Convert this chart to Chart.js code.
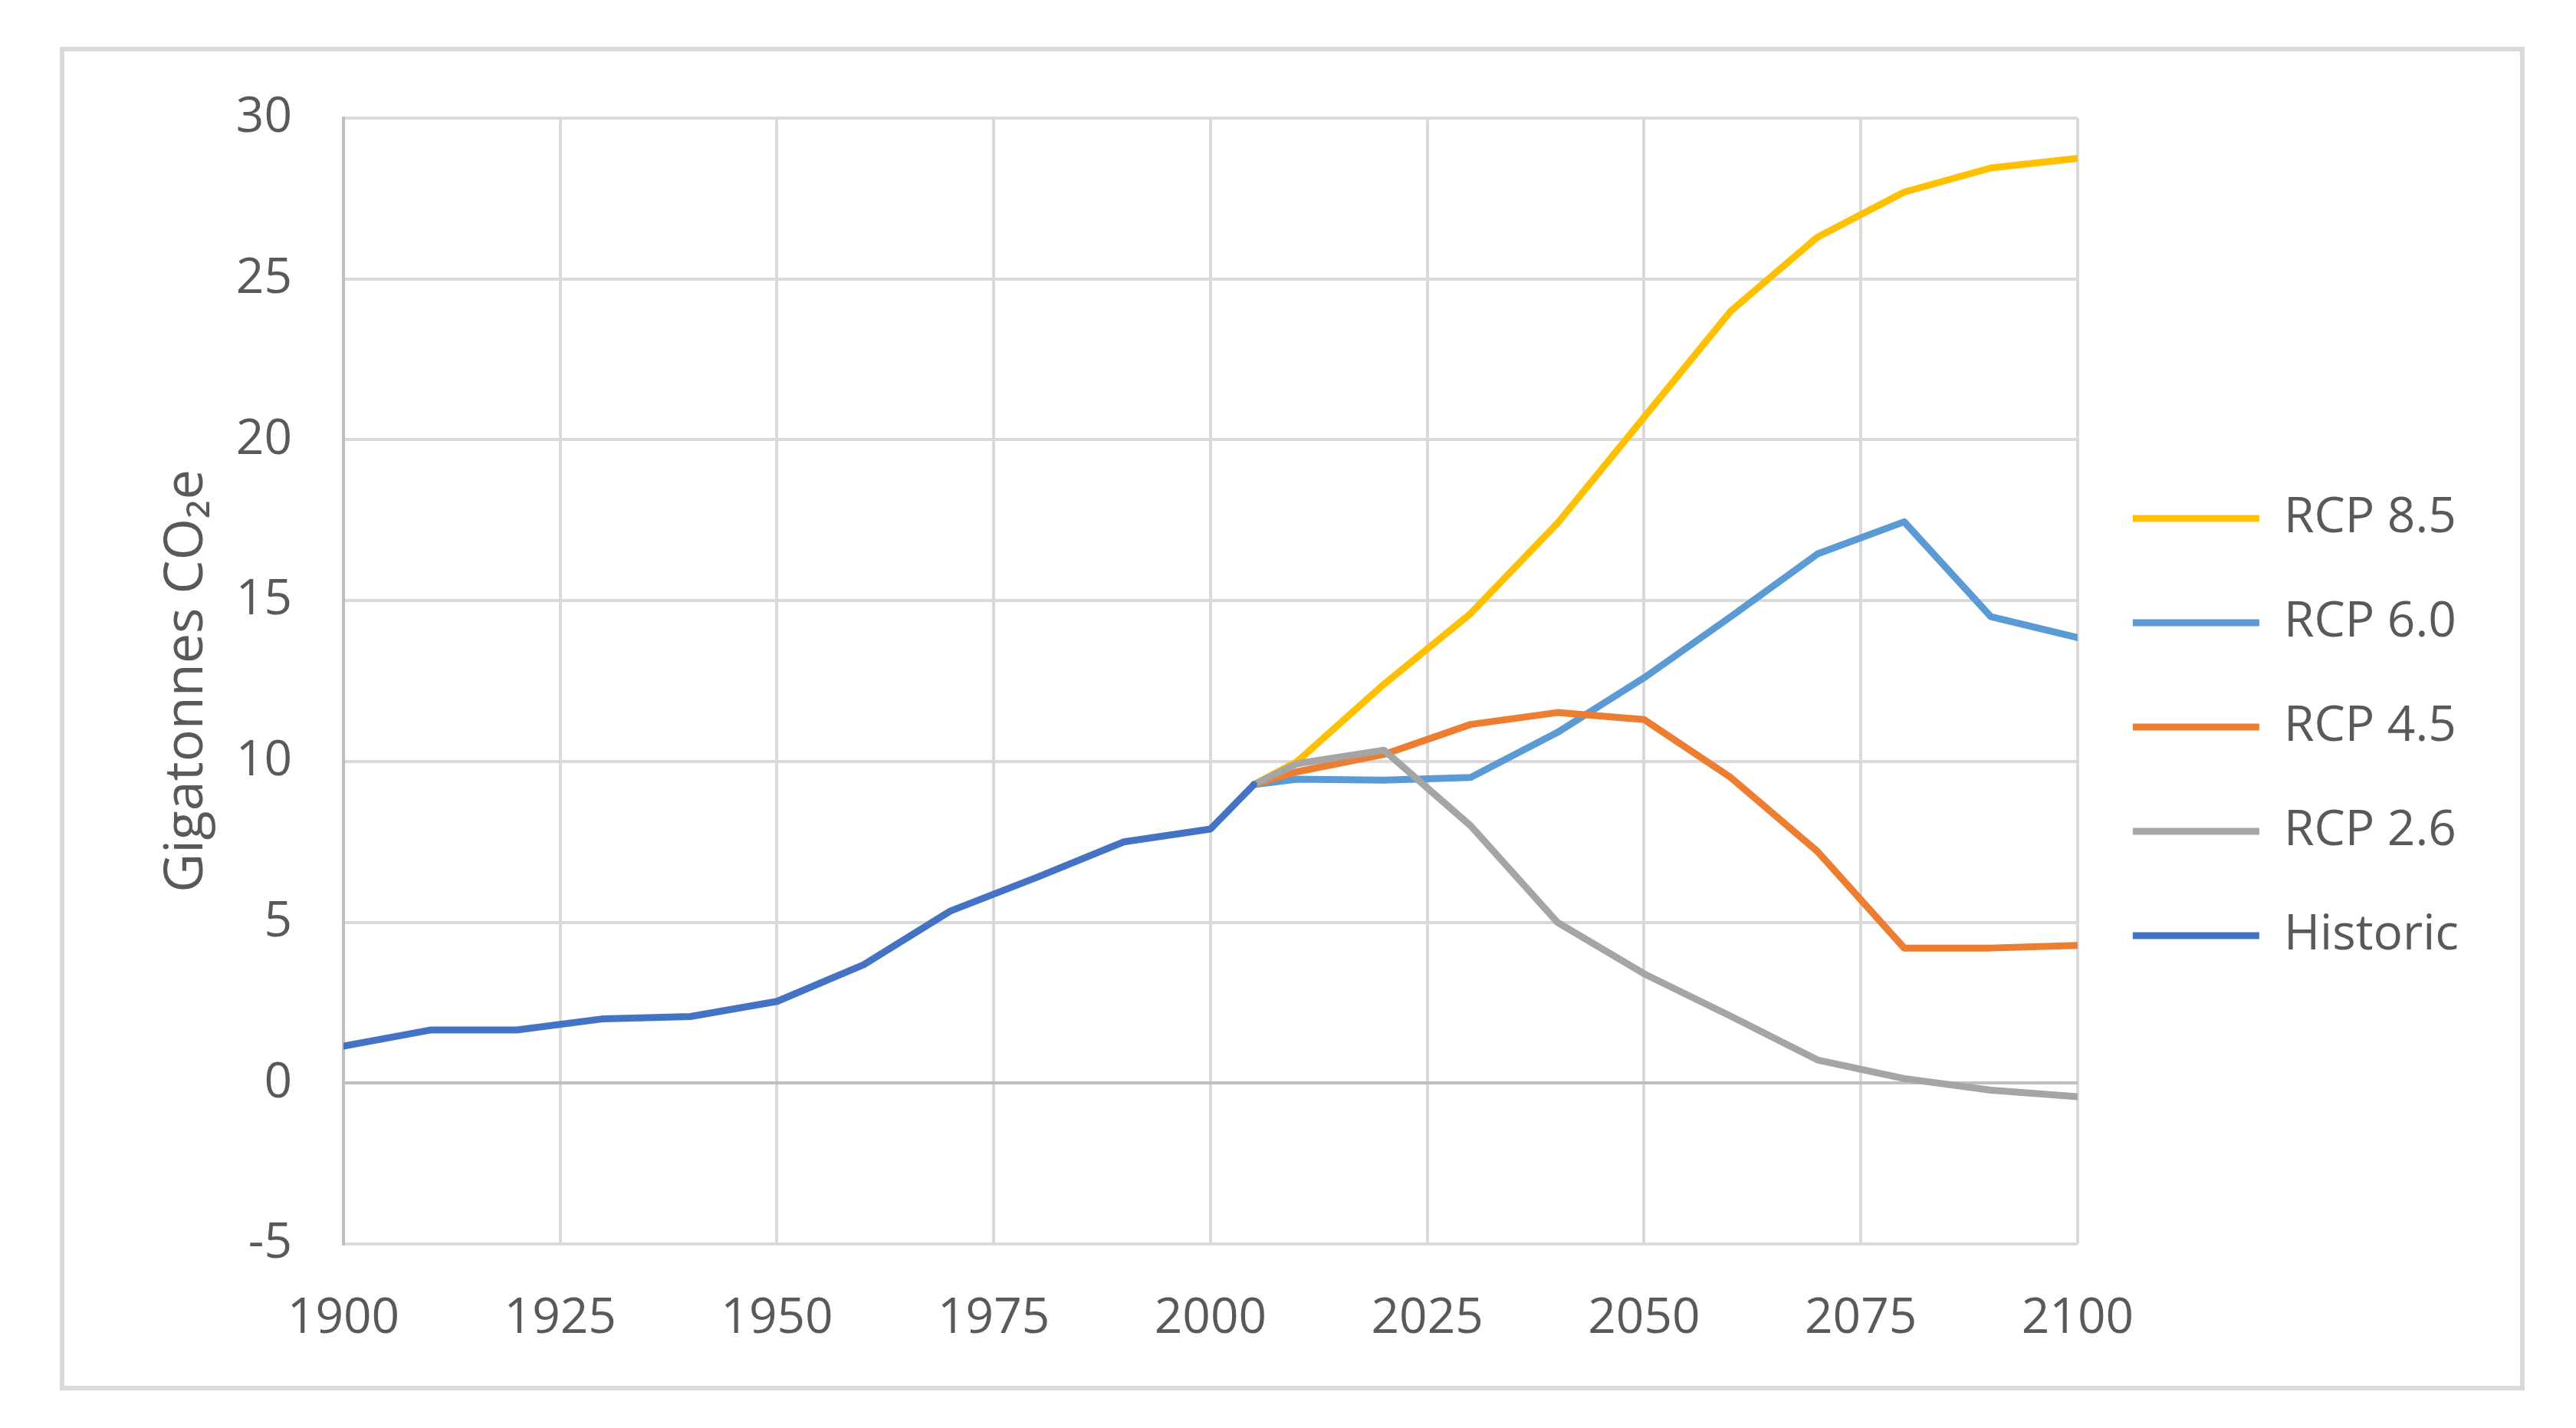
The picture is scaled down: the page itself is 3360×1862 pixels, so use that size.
<!DOCTYPE html>
<html>
<head>
<meta charset="utf-8">
<script src="https://cdn.jsdelivr.net/npm/chart.js@4.4.1/dist/chart.umd.min.js"></script>
<style>
  html, body { margin: 0; padding: 0; background: #ffffff; }
  body { width: 3360px; height: 1862px; position: relative; overflow: hidden; }
  #frame { position: absolute; left: 78px; top: 61px; width: 3215px; height: 1752px; box-sizing: border-box; border: 6px solid #d9d9d9; }
  #c { position: absolute; left: 0; top: 0; }
</style>
</head>
<body>
<div id="frame"></div>
<canvas id="c" width="3360" height="1862"></canvas>
<script>
// ---- Data ----
const histYears = [1900, 1910, 1920, 1930, 1940, 1950, 1960, 1970, 1980, 1990, 2000, 2005];
const historic  = [1.15, 1.65, 1.65, 2.0, 2.07, 2.54, 3.68, 5.35, 6.4, 7.5, 7.9, 9.28];

const rcpYears = [2005, 2010, 2020, 2030, 2040, 2050, 2060, 2070, 2080, 2090, 2100];
const rcp85 = [9.28, 10.0, 12.4, 14.6, 17.4, 20.7, 24.0, 26.3, 27.7, 28.45, 28.75];
const rcp60 = [9.28, 9.45, 9.42, 9.5, 10.9, 12.6, 14.5, 16.45, 17.45, 14.5, 13.85];
const rcp45 = [9.28, 9.68, 10.22, 11.15, 11.52, 11.3, 9.5, 7.2, 4.2, 4.2, 4.28];
const rcp26 = [9.28, 9.93, 10.35, 8.0, 5.0, 3.4, 2.08, 0.72, 0.14, -0.22, -0.42];

const seriesNames = ['RCP 8.5', 'RCP 6.0', 'RCP 4.5', 'RCP 2.6', 'Historic'];
const seriesColors = ['#FFC000', '#5B9BD5', '#ED7D31', '#A5A5A5', '#4472C4'];

const xMin = 1900, xMax = 2100, xStep = 25;
const yMin = -5, yMax = 30, yStep = 5;
const yTitle = 'Gigatonnes CO\u2082e';

// ---- Build datasets ----
function pts(xs, ys) { return xs.map((x, i) => ({ x: x, y: ys[i] })); }
const seriesData = [
  pts(rcpYears, rcp85),
  pts(rcpYears, rcp60),
  pts(rcpYears, rcp45),
  pts(rcpYears, rcp26),
  pts(histYears, historic)
];

const datasets = seriesNames.map((name, i) => ({
  label: name,
  data: seriesData[i],
  borderColor: seriesColors[i],
  backgroundColor: seriesColors[i],
  borderWidth: 9,
  borderCapStyle: 'round',
  borderJoinStyle: 'round',
  pointRadius: 0,
  pointHoverRadius: 0,
  tension: 0,
  fill: false,
  order: seriesNames.length - 1 - i   // Excel draws first series underneath
}));

const FONT = "'Open Sans', 'Noto Sans', 'DejaVu Sans', sans-serif";
const TXT = '#595959';

new Chart(document.getElementById('c'), {
  type: 'line',
  data: { datasets: datasets },
  options: {
    responsive: false,
    maintainAspectRatio: false,
    devicePixelRatio: 1,
    animation: false,
    layout: { padding: { left: 150, top: 154, right: 143, bottom: 120 } },
    plugins: {
      tooltip: { enabled: false },
      title: { display: false },
      legend: {
        display: true,
        position: 'right',
        align: 'center',
        labels: {
          usePointStyle: true,
          pointStyle: 'line',
          pointStyleWidth: 165,
          padding: 72,
          color: TXT,
          font: { family: FONT, size: 64 },
          sort: (a, b) => a.datasetIndex - b.datasetIndex
        }
      }
    },
    scales: {
      x: {
        type: 'linear',
        min: xMin, max: xMax,
        ticks: {
          stepSize: xStep,
          color: TXT,
          padding: 59,
          font: { family: FONT, size: 64 },
          callback: (v) => String(v),
          maxRotation: 0
        },
        grid: { color: '#d9d9d9', lineWidth: 4, drawTicks: false },
        border: { display: false },
        afterFit: (s) => { s.height = 120; }
      },
      y: {
        type: 'linear',
        min: yMin, max: yMax,
        ticks: {
          stepSize: yStep,
          color: TXT,
          padding: 67,
          font: { family: FONT, size: 64 }
        },
        grid: {
          color: (ctx) => (ctx.tick && ctx.tick.value === 0 ? '#bfbfbf' : '#d9d9d9'),
          lineWidth: 4,
          drawTicks: false
        },
        border: { display: true, color: '#bfbfbf', width: 4 },
        title: {
          display: true,
          text: yTitle,
          color: TXT,
          font: { family: FONT, size: 70 },
          padding: { top: 52, bottom: 0 }
        },
        afterFit: (s) => { s.width = 298; }
      }
    }
  }
});
</script>
</body>
</html>
